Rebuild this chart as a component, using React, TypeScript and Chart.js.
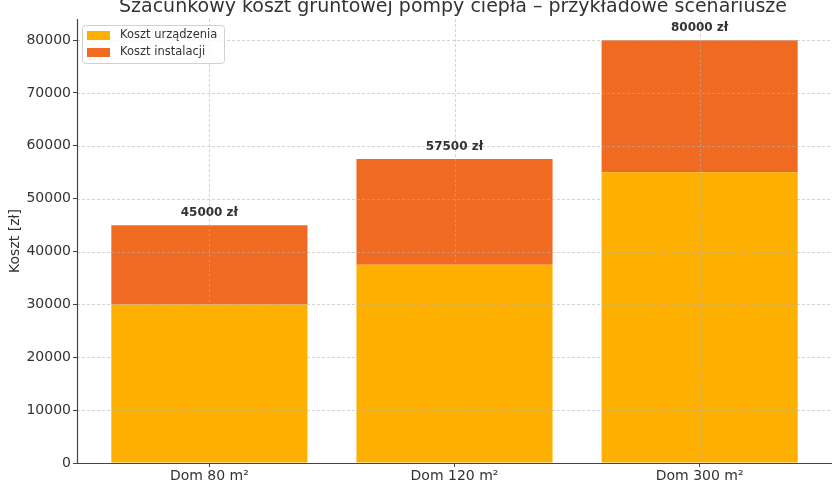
import React, { useEffect, useRef } from "react";
import { Chart, registerables } from "chart.js";

Chart.register(...registerables);

const TITLE = "Szacunkowy koszt gruntowej pompy ciepła – przykładowe scenariusze";
const Y_LABEL = "Koszt [zł]";
const CURRENCY = "zł";
const categories = ["Dom 80 m²", "Dom 120 m²", "Dom 300 m²"];
const seriesLabels = ["Koszt urządzenia", "Koszt instalacji"];
const deviceCost = [30000, 37500, 55000];
const installCost = [15000, 20000, 25000];
const yTicks = [0, 10000, 20000, 30000, 40000, 50000, 60000, 70000, 80000];

const COLOR_DEVICE = "#FEB000";
const COLOR_INSTALL = "#F16A22";
const FONT = '"DejaVu Sans", sans-serif';
const TEXT = "#333333";

const overlayPlugin = {
  id: "overlay",
  afterDatasetsDraw(chart: any) {
    const { ctx, chartArea: ca } = chart;
    const x = chart.scales.x;
    const y = chart.scales.y;
    ctx.save();
    // grid lines over bars
    ctx.strokeStyle = "rgba(176,176,176,0.55)";
    ctx.lineWidth = 1;
    ctx.setLineDash([3, 2]);
    yTicks.forEach((v) => {
      if (v === 0) return;
      const py = Math.round(y.getPixelForValue(v)) + 0.5;
      ctx.beginPath();
      ctx.moveTo(ca.left, py);
      ctx.lineTo(ca.right, py);
      ctx.stroke();
    });
    categories.forEach((_, i) => {
      const px = Math.round(x.getPixelForValue(i)) + 0.5;
      ctx.beginPath();
      ctx.moveTo(px, ca.top);
      ctx.lineTo(px, ca.bottom);
      ctx.stroke();
    });
    ctx.setLineDash([]);
    // spines
    ctx.strokeStyle = "#444444";
    ctx.lineWidth = 1.2;
    ctx.beginPath();
    ctx.moveTo(ca.left + 0.5, ca.top);
    ctx.lineTo(ca.left + 0.5, ca.bottom + 0.5);
    ctx.lineTo(ca.right, ca.bottom + 0.5);
    ctx.stroke();
    // total labels
    ctx.font = `bold 12px ${FONT}`;
    ctx.fillStyle = TEXT;
    ctx.textAlign = "center";
    ctx.textBaseline = "middle";
    categories.forEach((_, i) => {
      const total = deviceCost[i] + installCost[i];
      ctx.fillText(`${total} ${CURRENCY}`, x.getPixelForValue(i), y.getPixelForValue(total) - 12);
    });
    ctx.restore();
  },
  afterDraw(chart: any) {
    const { ctx, chartArea: ca } = chart;
    ctx.save();
    // title
    ctx.font = `19px ${FONT}`;
    ctx.fillStyle = "#333333";
    ctx.textAlign = "center";
    ctx.textBaseline = "alphabetic";
    ctx.fillText(TITLE, 453, 12);
    // legend
    const lx = ca.left + 5;
    const ly = 25;
    const lw = 142;
    const lh = 38;
    ctx.beginPath();
    if ((ctx as any).roundRect) (ctx as any).roundRect(lx + 0.5, ly + 0.5, lw, lh, 3);
    else ctx.rect(lx + 0.5, ly + 0.5, lw, lh);
    ctx.fillStyle = "rgba(255,255,255,0.85)";
    ctx.fill();
    ctx.strokeStyle = "#d0d0d0";
    ctx.lineWidth = 1;
    ctx.stroke();
    ctx.font = `11.5px ${FONT}`;
    ctx.textAlign = "left";
    ctx.textBaseline = "middle";
    chart.data.datasets.forEach((ds: any, i: number) => {
      const cy = ly + 10.5 + i * 17;
      ctx.fillStyle = ds.backgroundColor;
      ctx.fillRect(lx + 5, cy - 4.5, 23, 9);
      ctx.fillStyle = TEXT;
      ctx.fillText(ds.label, lx + 38, cy);
    });
    ctx.restore();
  },
};

export default function App() {
  const canvasRef = useRef<HTMLCanvasElement | null>(null);

  useEffect(() => {
    document.body.style.margin = "0";
    const canvas = canvasRef.current;
    if (!canvas) return;
    const chart = new Chart(canvas, {
      type: "bar",
      data: {
        datasets: [
          {
            label: seriesLabels[0],
            data: categories.map((_, i) => ({ x: i, y: deviceCost[i] })),
            backgroundColor: COLOR_DEVICE,
            borderWidth: 0,
          },
          {
            label: seriesLabels[1],
            data: categories.map((_, i) => ({ x: i, y: installCost[i] })),
            backgroundColor: COLOR_INSTALL,
            borderWidth: 0,
          },
        ],
      },
      options: {
        responsive: false,
        animation: false,
        devicePixelRatio: 1,
        layout: { padding: { top: 19, right: 8, left: 0, bottom: 0 } },
        datasets: { bar: { categoryPercentage: 1, barPercentage: 0.8 } },
        plugins: {
          legend: { display: false },
          title: { display: false },
          tooltip: { enabled: false },
        },
        scales: {
          x: {
            type: "linear",
            stacked: true,
            offset: false,
            min: -0.54,
            max: 2.54,
            afterBuildTicks: (s: any) => {
              s.ticks = categories.map((_, i) => ({ value: i }));
            },
            afterFit: (s: any) => {
              s.height = 17;
            },
            ticks: {
              callback: (v: any) => categories[v as number] ?? "",
              font: { family: FONT, size: 14 },
              color: TEXT,
              padding: 1,
              maxRotation: 0,
              autoSkip: false,
            },
            grid: { display: true, offset: false, drawOnChartArea: false, drawTicks: true, tickLength: 4, color: "#444444" },
            border: { display: false },
          },
          y: {
            type: "linear",
            stacked: true,
            min: 0,
            max: 84000,
            afterBuildTicks: (s: any) => {
              s.ticks = yTicks.map((v) => ({ value: v }));
            },
            afterFit: (s: any) => {
              s.width = 77;
            },
            ticks: {
              callback: (v: any) => String(v),
              font: { family: FONT, size: 14 },
              color: TEXT,
              padding: 2,
            },
            grid: { display: true, drawOnChartArea: false, drawTicks: true, tickLength: 4, color: "#444444" },
            border: { display: false },
            title: {
              display: true,
              text: Y_LABEL,
              font: { family: FONT, size: 14 },
              color: TEXT,
              padding: { top: 7, bottom: 0 },
            },
          },
        },
      },
      plugins: [overlayPlugin],
    } as any);
    return () => chart.destroy();
  }, []);

  return (
    <div style={{ width: 840, height: 480 }}>
      <canvas ref={canvasRef} width={840} height={480} style={{ display: "block" }} />
    </div>
  );
}
